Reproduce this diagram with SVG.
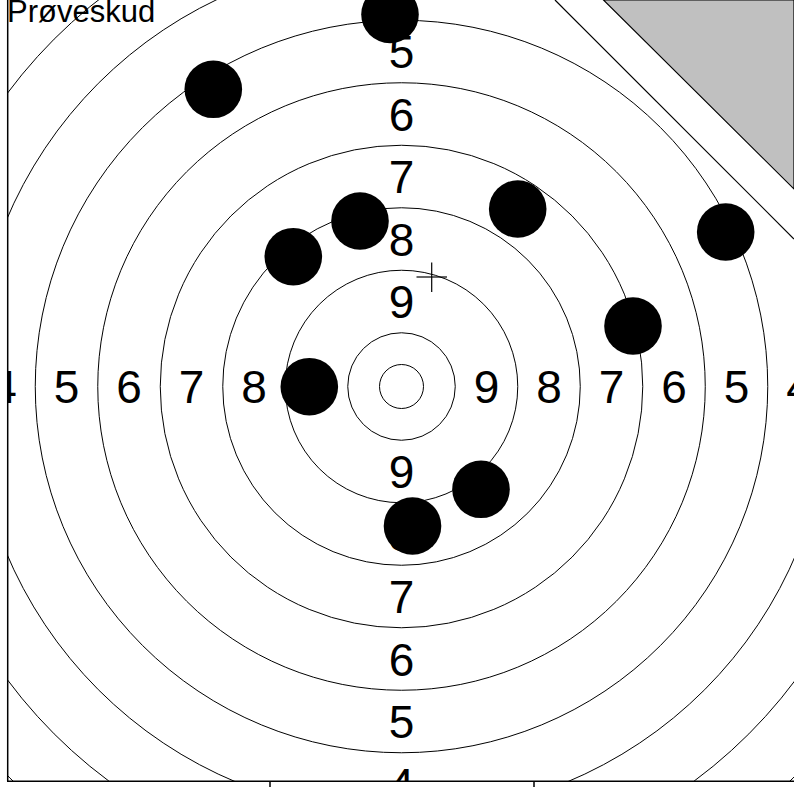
<svg xmlns="http://www.w3.org/2000/svg" width="794" height="787" viewBox="0 0 794 787">
<style>
.ring{fill:none;stroke:#000;stroke-width:1}
.num{font-family:"Liberation Sans",Arial,sans-serif;font-size:46px;fill:#000;text-anchor:middle}
.shot{fill:#000}
.frame{stroke:#000;stroke-width:1.5;fill:none}
</style>
<defs>
<clipPath id="area"><rect x="8" y="0" width="786" height="781"/></clipPath>
</defs>
<rect width="794" height="787" fill="#fff"/>
<g id="target" clip-path="url(#area)">
<g id="rings">
<circle class="ring" cx="401.5" cy="386.5" r="22"/>
<circle class="ring" cx="401.5" cy="386.5" r="53.75"/>
<circle class="ring" cx="401.5" cy="386.5" r="116.25"/>
<circle class="ring" cx="401.5" cy="386.5" r="178.75"/>
<circle class="ring" cx="401.5" cy="386.5" r="241.25"/>
<circle class="ring" cx="401.5" cy="386.5" r="303.75"/>
<circle class="ring" cx="401.5" cy="386.5" r="366.25"/>
<circle class="ring" cx="401.5" cy="386.5" r="428.75"/>
<circle class="ring" cx="401.5" cy="386.5" r="491.25"/>
<circle class="ring" cx="401.5" cy="386.5" r="553.75"/>
</g>
<g id="labels">
<text class="num" x="401.5" y="318">9</text>
<text class="num" x="401.5" y="255.5">8</text>
<text class="num" x="401.5" y="193">7</text>
<text class="num" x="401.5" y="130.5">6</text>
<text class="num" x="401.5" y="68">5</text>
<text class="num" x="401.5" y="488">9</text>
<text class="num" x="401.5" y="550.5">8</text>
<text class="num" x="401.5" y="613">7</text>
<text class="num" x="401.5" y="675.5">6</text>
<text class="num" x="401.5" y="738">5</text>
<text class="num" x="401.5" y="800.5">4</text>
<text class="num" x="254" y="403">8</text>
<text class="num" x="191.5" y="403">7</text>
<text class="num" x="129" y="403">6</text>
<text class="num" x="66.5" y="403">5</text>
<text class="num" x="4" y="403">4</text>
<text class="num" x="486.5" y="403">9</text>
<text class="num" x="549" y="403">8</text>
<text class="num" x="611.5" y="403">7</text>
<text class="num" x="674" y="403">6</text>
<text class="num" x="736.5" y="403">5</text>
<text class="num" x="799" y="403">4</text>
</g>
</g>
<g id="corner">
<polygon points="555,0 794,0 794,239" fill="#fff"/>
<line x1="555" y1="0" x2="794" y2="239" stroke="#000" stroke-width="1.2"/>
<polygon points="603.5,0 794,0 794,189" fill="#c0c0c0" stroke="#000" stroke-width="1.2"/>
</g>
<text id="title" x="7" y="22" font-family="'Liberation Sans',Arial,sans-serif" font-size="31" fill="#000">Prøveskud</text>
<g id="shots">
<circle class="shot" cx="390" cy="14.5" r="28.8"/>
<circle class="shot" cx="213.3" cy="89.3" r="28.8"/>
<circle class="shot" cx="360" cy="221" r="28.8"/>
<circle class="shot" cx="293.3" cy="256.7" r="28.8"/>
<circle class="shot" cx="517.7" cy="209" r="28.8"/>
<circle class="shot" cx="725.7" cy="232" r="28.8"/>
<circle class="shot" cx="633" cy="326" r="28.8"/>
<circle class="shot" cx="309.3" cy="386.7" r="28.8"/>
<circle class="shot" cx="481" cy="489.3" r="28.8"/>
<circle class="shot" cx="412.5" cy="526" r="28.8"/>
</g>
<g id="cross" stroke="#000" stroke-width="1.2">
<line x1="431.7" y1="262.5" x2="431.7" y2="292"/>
<line x1="416.5" y1="277" x2="447" y2="277"/>
</g>
<g id="frame">
<line class="frame" x1="7.7" y1="0" x2="7.7" y2="781.3"/>
<line class="frame" x1="7" y1="781.3" x2="794" y2="781.3"/>
<line class="frame" x1="270" y1="781.3" x2="270" y2="787"/>
<line class="frame" x1="534" y1="781.3" x2="534" y2="787"/>
</g>
</svg>
